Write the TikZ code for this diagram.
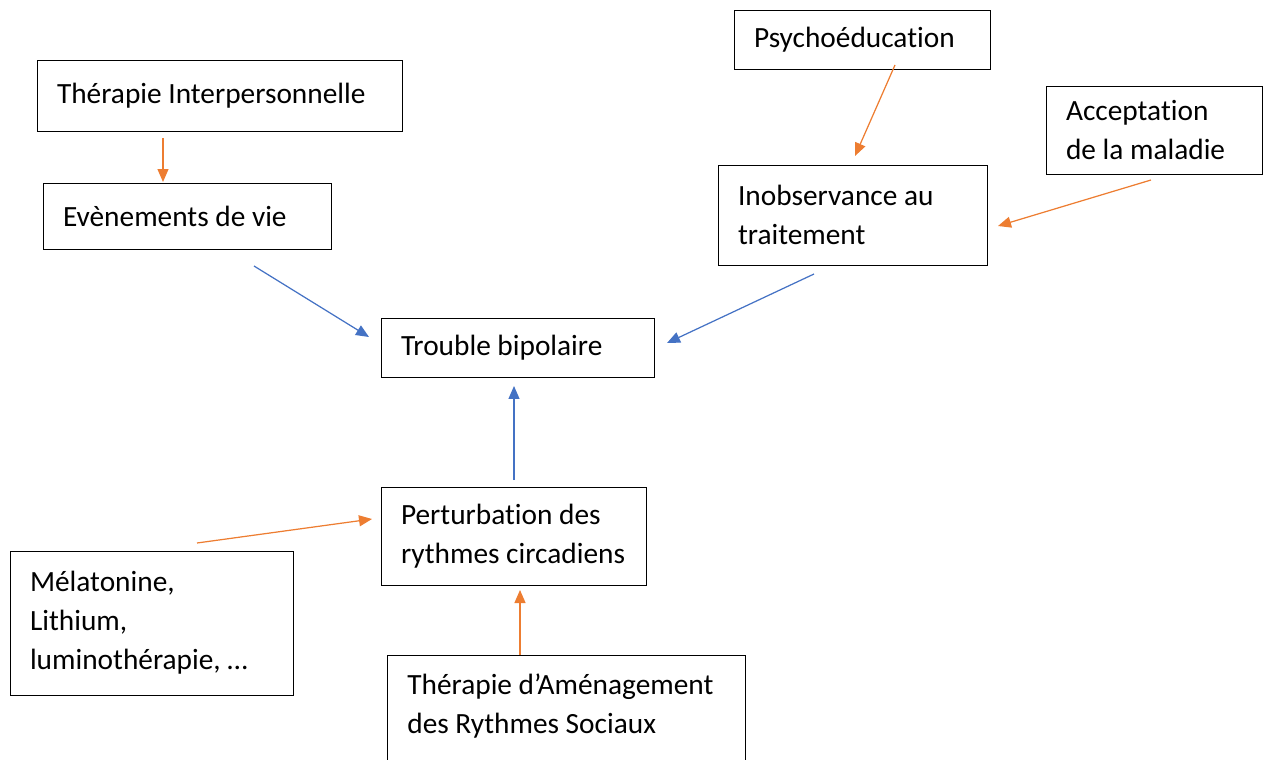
\documentclass[tikz,border=0pt]{standalone}
\usepackage{fontspec}
\setmainfont{Carlito}[Ligatures={NoCommon}]
\usepackage{tikz}
\usetikzlibrary{shapes,arrows.meta}
\definecolor{orangeline}{RGB}{237,125,49}
\definecolor{blueline}{RGB}{68,114,196}
\newcommand{\boxfont}{\fontsize{16.7}{22.2}\selectfont}
\tikzstyle{block} = [rectangle, draw, line width=0.5pt, align=flush left, inner xsep=0.4cm, inner ysep=0pt, font=\boxfont]
\tikzstyle{line} = [draw, line width=0.7pt, -{Triangle[length=0.26cm,width=0.22cm]}]
\tikzstyle{cause} = [line, blueline]
\tikzstyle{remedy} = [line, orangeline]

\begin{document}
\begin{tikzpicture}[x=0.02cm, y=-0.02cm]
    \useasboundingbox (0,0) rectangle (1267,760);
    \clip (0,0) rectangle (1267,760);
    % Place nodes
    \node [block, text width=6.5cm, minimum height=1.42cm] (tip) at (219.5,95.5) {Thérapie Interpersonnelle};
    \node [block, text width=4.96cm, minimum height=1.32cm] (evt) at (187,216) {Evènements de vie};
    \node [block, text width=4.32cm, minimum height=1.18cm] (psy) at (862,39.5) {Psychoéducation};
    \node [block, text width=3.52cm, minimum height=1.76cm] (acc) at (1154,130) {Acceptation\\de la maladie};
    \node [block, text width=4.58cm, minimum height=2cm] (inob) at (852.5,215) {Inobservance au\\traitement};
    \node [block, text width=4.66cm, minimum height=1.18cm] (tb) at (517.5,347.5) {Trouble bipolaire};
    \node [block, text width=4.5cm, minimum height=1.96cm] (prc) at (513.5,536) {Perturbation des\\rythmes circadiens};
    \node [block, text width=4.86cm, minimum height=2.88cm] (mel) at (151.5,623) {Mélatonine,\\Lithium,\\luminothérapie, …};
    \node [block, minimum width=7.16cm, minimum height=2.5cm, anchor=north west] (tars) at (387,655) {};
    \node [anchor=north west, inner sep=0pt, align=flush left, font=\boxfont] (tarstext) at (407,673) {Thérapie d’Aménagement\\des Rythmes Sociaux};
    % Arrow ends
    \coordinate (tipout) at (163,138);   \coordinate (evtin) at (163,182);
    \coordinate (psyout) at (895,65);    \coordinate (inobin1) at (855,156);
    \coordinate (accout) at (1151,180);  \coordinate (inobin2) at (998,226);
    \coordinate (evtout) at (254,266);   \coordinate (tbin1) at (369,337);
    \coordinate (inobout) at (814,274);  \coordinate (tbin2) at (667,343);
    \coordinate (prcout) at (514,480);   \coordinate (tbin3) at (514,386);
    \coordinate (melout) at (197,543);   \coordinate (prcin1) at (372,519);
    \coordinate (tarsout) at (520,655);  \coordinate (prcin2) at (520,590);
    % Draw edges
    \path [remedy] (tipout) -- (evtin);
    \path [remedy] (psyout) -- (inobin1);
    \path [remedy] (accout) -- (inobin2);
    \path [cause] (evtout) -- (tbin1);
    \path [cause] (inobout) -- (tbin2);
    \path [cause] (prcout) -- (tbin3);
    \path [remedy] (melout) -- (prcin1);
    \path [remedy] (tarsout) -- (prcin2);
\end{tikzpicture}
\end{document}
